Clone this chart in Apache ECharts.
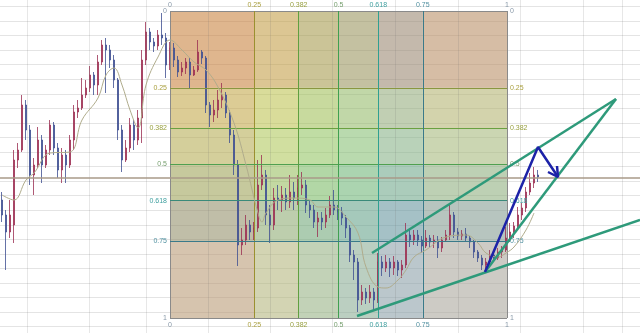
<!DOCTYPE html>
<html><head><meta charset="utf-8">
<script src="https://cdn.jsdelivr.net/npm/echarts@6/dist/echarts.min.js"></script>
<style>html,body{margin:0;padding:0;background:#fff}#c{width:640px;height:333px}</style>
</head><body><div id="c"></div>
<script>
// ---- DATA ----
const candleOpen = [120.0,118.5,116.8,117.5,124.0,125.0,129.5,127.0,122.5,123.5,126.0,123.5,125.0,127.5,125.2,123.0,124.5,123.5,126.0,128.8,
129.2,130.5,131.2,132.5,131.5,133.8,135.5,135.0,134.0,132.0,127.0,124.0,125.2,127.5,126.0,128.2,134.0,136.8,135.8,135.4,
136.5,136.2,133.5,135.2,134.0,132.8,133.2,133.8,132.5,133.0,134.8,134.2,129.5,128.5,129.0,130.0,130.5,128.7,126.5,123.5,
115.5,116.0,117.5,116.8,117.2,121.5,122.5,118.5,117.5,120.2,120.0,120.5,119.8,120.8,120.2,121.2,121.5,119.5,119.0,117.8,
118.2,117.8,118.5,119.5,119.0,118.8,118.2,117.2,114.5,113.8,110.0,110.8,110.2,110.8,110.0,113.8,113.2,113.8,113.2,113.8,
113.0,113.5,116.5,116.0,116.5,116.0,115.4,116.2,115.8,116.0,115.2,116.0,116.5,118.5,116.8,116.4,116.6,116.2,115.8,114.8,
114.2,113.5,113.8,114.5,114.2,114.8,115.0,116.2,116.8,117.4,118.5,119.2,120.8,121.7,122.5];
const candleClose = [118.5,116.8,118.5,124.0,125.0,129.5,127.0,122.5,123.5,126.0,123.5,125.0,127.5,125.2,123.0,124.5,123.5,126.0,128.8,129.2,
130.5,131.2,132.5,131.5,133.8,135.5,135.0,134.0,132.0,127.0,124.0,125.2,127.5,126.0,128.2,134.0,136.8,135.8,135.4,136.5,
136.2,133.5,135.2,134.0,132.8,133.2,133.8,132.5,133.0,134.8,134.2,129.5,128.5,129.0,130.0,130.5,128.7,126.5,123.5,115.5,
116.0,117.5,116.8,117.2,121.5,122.5,118.5,117.5,120.2,120.0,120.5,119.8,120.8,120.2,121.2,121.5,119.5,119.0,117.8,118.2,
117.8,118.5,119.5,119.0,118.8,118.2,117.2,114.5,113.8,110.0,110.8,110.2,110.8,110.0,113.8,113.2,113.8,113.2,113.8,113.0,
113.5,116.5,116.0,116.5,116.0,115.4,116.2,115.8,116.0,115.2,116.0,116.5,118.5,116.8,116.4,116.6,116.2,115.8,114.8,114.2,
113.5,113.8,114.5,114.2,114.8,115.0,116.2,116.8,117.4,118.5,119.2,120.8,121.7,122.5,122.3];
const candleLow = [117.8,113.0,116.2,115.7,123.2,124.8,126.0,121.5,120.5,123.2,121.7,123.2,124.5,124.5,122.2,121.7,121.7,123.2,125.0,128.2,
129.0,130.2,130.8,130.5,130.5,133.5,130.7,133.2,131.2,126.0,122.8,123.8,124.8,125.0,125.5,125.7,133.5,135.0,134.8,135.0,
135.5,132.2,133.0,133.3,132.3,132.4,132.6,131.2,132.4,132.8,133.6,128.7,127.3,127.8,128.2,129.2,128.2,125.7,122.5,113.4,
114.5,115.5,116.0,116.0,116.8,121.0,117.5,115.7,117.0,119.0,118.8,119.0,119.2,119.0,119.5,120.5,118.7,118.2,117.2,116.3,
117.0,117.2,118.2,118.5,118.0,117.5,116.2,113.8,112.0,108.8,109.5,109.6,109.7,109.0,109.7,112.4,112.8,112.3,112.5,112.4,
112.2,113.2,115.3,115.5,115.4,114.7,115.2,115.3,115.2,114.2,114.8,115.8,116.0,116.2,116.0,116.0,115.8,115.2,114.2,113.8,
113.0,112.8,113.5,113.8,114.0,114.2,114.8,115.8,116.2,117.0,118.0,118.8,120.5,121.2,121.8];
const candleHigh = [120.8,119.0,120.0,125.0,125.7,130.5,130.0,127.5,124.2,127.3,126.5,125.5,128.0,127.8,125.7,125.2,125.0,126.5,129.5,130.0,
132.2,132.0,133.4,132.8,134.5,136.0,136.2,135.5,134.5,132.2,127.5,126.0,128.2,128.0,129.0,135.0,137.8,137.2,136.2,137.0,
138.7,136.7,135.8,135.7,134.4,133.8,134.2,134.2,133.4,136.0,135.0,134.4,129.8,130.0,131.0,131.7,130.8,129.0,127.0,124.0,
117.2,118.5,118.0,117.8,124.0,124.5,123.0,119.5,121.2,121.5,121.4,121.2,122.5,121.8,122.5,122.8,122.0,120.0,119.5,118.8,
118.8,119.2,120.4,121.0,119.5,119.3,118.5,117.5,115.0,114.2,111.5,111.2,111.5,111.2,114.7,114.4,114.5,114.2,114.4,114.0,
114.0,117.7,117.2,117.0,117.0,116.4,117.0,116.5,116.5,116.4,116.3,117.0,119.5,118.8,117.2,117.0,117.2,116.4,116.0,115.0,
114.5,114.2,115.0,115.0,115.2,115.4,117.3,117.7,117.8,119.3,119.7,121.3,122.7,123.3,123.0];
const maIndex = [0,3,6,8,12,17,20,24,26,28,30,32,34,36,39,42,45,48,51,54,58,61,64,65,66,69,73,77,79,83,86,89,91,94,96,99,101,103,106,111,116,119,121,124,126,128,131,133];
const maValue = [120.5,120.0,122.0,122.7,124.7,124.8,128.0,130.2,132.5,133.2,131.5,129.0,127.2,131.5,134.3,136.0,135.0,133.8,133.0,131.3,127.7,123.5,118.7,117.8,118.7,120.0,120.2,120.0,119.3,119.3,118.3,116.7,113.3,111.3,111.2,112.0,113.0,114.3,115.0,116.3,116.5,115.7,114.7,114.3,114.7,115.3,117.0,118.7];
const fibLevels = [0, 0.25, 0.382, 0.5, 0.618, 0.75, 1];
const fibStart = 42, fibEnd = 126.25, fibHigh = 138.9, fibLow = 108.2;
const currentPrice = 122.2;
const upperChannel = [[92.5, 114.7], [153.5, 130.1]];
const steepChannel = [[120.75, 112.8], [153.5, 130.1]];
const lowerChannel = [[88.75, 108.4], [159.5, 118.0]];
const arrowPath = [[120.75, 112.8], [134, 125.3], [139, 122.3]];
const arrowHead = [[138.75, 123.4], [139, 122.3], [136.5, 122.8]];
const gridColumns = [6.25, 21.75, 36, 51.5, 67, 82.5, 98.25, 114, 129.5, 145.25, 155];
const slotCount = 160;
const priceMin = 106.7, priceMax = 140.0;

// ---- STYLES ----
const colFill = ['#c8823c', '#b8c850', '#70c060', '#50b090', '#5090c0', '#a0a0a0'];
const rowFill = ['#c8823c', '#c0c050', '#a8c860', '#80b868', '#709888', '#b0a898'];
const hLineColor = ['#8a8a8a', '#8a9640', '#6aa040', '#50a050', '#3a8a7a', '#3a7a8a', '#8a8a8a'];
const vLineColor = ['#8a8a8a', '#9a9030', '#60a040', '#40a050', '#30a090', '#3a7a8a', '#8a8a8a'];
const labelColor = ['#8898a8', '#aaa040', '#98a040', '#78a070', '#40a0a0', '#5090a0', '#8898a8'];
const font = 'Liberation Sans';

const categories = Array.from({length: slotCount}, (_, i) => i);
const candles = candleOpen.map((o, i) => [o, candleClose[i], candleLow[i], candleHigh[i]]);
const maData = maIndex.map((x, i) => [x, maValue[i]]);
const fx = l => fibStart + l * (fibEnd - fibStart);
const fy = l => fibHigh - l * (fibHigh - fibLow);

const areas = [];
for (let k = 0; k < 6; k++) {
  areas.push([{coord: [fx(fibLevels[k]), fibHigh], itemStyle: {color: colFill[k], opacity: 0.35}}, {coord: [fx(fibLevels[k + 1]), fibLow]}]);
}
for (let k = 0; k < 6; k++) {
  areas.push([{coord: [fibStart, fy(fibLevels[k])], itemStyle: {color: rowFill[k], opacity: 0.35}}, {coord: [fibEnd, fy(fibLevels[k + 1])]}]);
}
const lbl = (k, pos, dist) => ({show: true, position: pos, distance: dist, formatter: String(fibLevels[k]), color: labelColor[k], fontSize: 7, fontFamily: font});
const lines = [];
fibLevels.forEach((l, k) => {
  const hs = {color: hLineColor[k], width: 1, type: 'solid', opacity: 1};
  const vs = {color: vLineColor[k], width: 1, type: 'solid', opacity: 1};
  lines.push([{coord: [fibStart, fy(l)], lineStyle: hs, label: lbl(k, 'start', 3)}, {coord: [fibEnd, fy(l)]}]);
  lines.push([{coord: [fibStart, fy(l)], lineStyle: hs, label: lbl(k, 'end', 3)}, {coord: [fibEnd, fy(l)]}]);
  lines.push([{coord: [fx(l), fibHigh], lineStyle: vs, label: lbl(k, 'start', 2)}, {coord: [fx(l), fibLow]}]);
  lines.push([{coord: [fx(l), fibHigh], lineStyle: vs, label: lbl(k, 'end', 4)}, {coord: [fx(l), fibLow]}]);
});

const trend = (data, color, z) => ({type: 'line', xAxisIndex: 1, yAxisIndex: 0, data, symbol: 'none', z,
  lineStyle: {color, width: 2.5}, silent: true, animation: false});

const chart = echarts.init(document.getElementById('c'), null, {renderer: 'canvas'});
chart.setOption({
  animation: false,
  backgroundColor: '#ffffff',
  grid: [
    {left: 0, right: 0, top: 0, bottom: 0},
    {left: 0, right: 0, top: 6.5, bottom: 6.4}
  ],
  xAxis: [
    {type: 'category', gridIndex: 0, data: categories, boundaryGap: true,
      axisLine: {show: false}, axisTick: {show: false}, axisLabel: {show: false}, splitLine: {show: false}},
    {type: 'value', gridIndex: 0, min: -0.5, max: slotCount - 0.5, show: false, splitLine: {show: false}},
    {type: 'value', gridIndex: 1, min: 0, max: 1, show: false, splitLine: {show: false}}
  ],
  yAxis: [
    {type: 'value', gridIndex: 0, min: priceMin, max: priceMax, show: false, splitLine: {show: false}},
    {type: 'value', gridIndex: 1, min: 0, max: 22, interval: 1, axisLine: {show: false}, axisTick: {show: false}, axisLabel: {show: false},
      splitLine: {show: true, lineStyle: {color: '#e4e4e4', width: 1}}}
  ],
  series: [
    {type: 'line', xAxisIndex: 1, yAxisIndex: 0, data: [[fibStart, fibHigh]], symbol: 'none', showSymbol: false, z: 0.5,
      lineStyle: {opacity: 0}, silent: true,
      markLine: {silent: true, symbol: ['none', 'none'], label: {show: false}, animation: false,
        lineStyle: {color: 'rgba(110,110,110,0.17)', width: 1, type: 'solid'}, data: gridColumns.map(v => ({xAxis: v}))}},
    {type: 'line', xAxisIndex: 1, yAxisIndex: 0, data: [[fibStart, fibHigh]], symbol: 'none', showSymbol: false, z: 1,
      lineStyle: {opacity: 0}, silent: true,
      markArea: {silent: true, data: areas},
      markLine: {silent: true, symbol: ['none', 'none'], animation: false, data: lines}},
    {type: 'candlestick', xAxisIndex: 0, yAxisIndex: 0, data: candles, barWidth: 2, z: 4,
      itemStyle: {color: '#b03a5e', color0: '#4a5a9e', borderColor: '#9a2e52', borderColor0: '#3e4e90', borderWidth: 0.8},
      markLine: {silent: true, symbol: ['none', 'none'], label: {show: false},
        lineStyle: {color: '#a89a88', width: 1.5, type: 'solid'}, data: [{yAxis: currentPrice}]}},
    {type: 'line', xAxisIndex: 1, yAxisIndex: 0, data: maData, symbol: 'none', smooth: 0.4, z: 5,
      lineStyle: {color: '#b0ac8c', width: 1}, silent: true},
    trend(upperChannel, '#2e9a7a', 6),
    trend(steepChannel, '#2e9a7a', 6),
    trend(lowerChannel, '#2e9a7a', 6),
    trend(arrowPath, '#1c22a8', 7),
    trend(arrowHead, '#1c22a8', 7)
  ]
});
</script></body></html>
